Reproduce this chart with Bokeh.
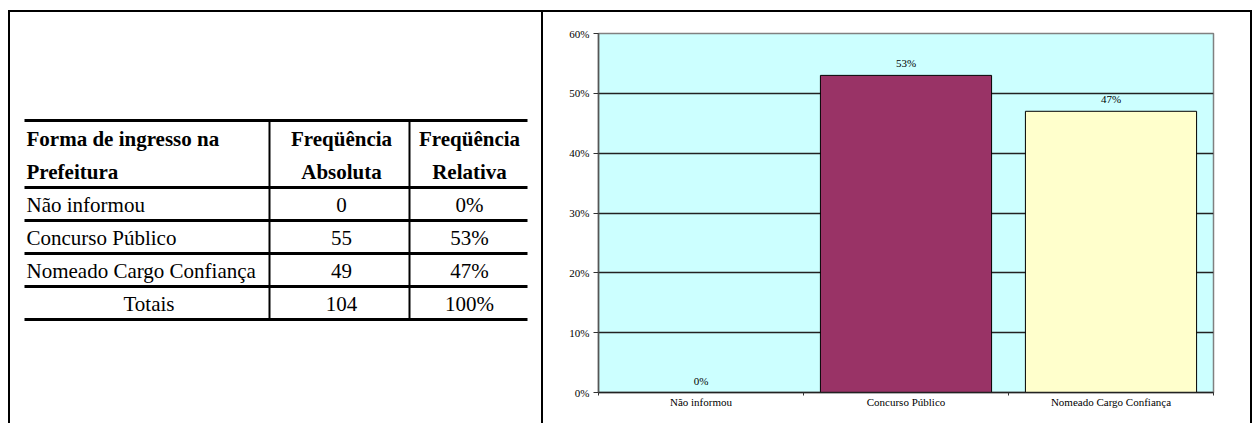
from bokeh.plotting import figure
from bokeh.layouts import row, column
from bokeh.models import Range1d, FixedTicker, NumeralTickFormatter, Spacer
from bokeh.core.properties import value
from bokeh.embed import file_html
from bokeh.resources import INLINE

# ---------------- data ----------------
categories = ["Não informou", "Concurso Público", "Nomeado Cargo Confiança"]
absolute = [0, 55, 49]
relative_pct = [0, 53, 47]
total_abs = 104
total_pct = 100
header_col1 = ["Forma de ingresso na", "Prefeitura"]
header_col2 = ["Freqüência", "Absoluta"]
header_col3 = ["Freqüência", "Relativa"]
total_label = "Totais"
bar_colors = ["#9999FF", "#993366", "#FFFFCC"]
y_ticks = [0.0, 0.1, 0.2, 0.3, 0.4, 0.5, 0.6]

SERIF = value("Liberation Serif")

# ---------------- page geometry (pixels) ----------------
W, H = 1252, 423
TOP_WHITE, LINE = 10, 2
OUT_LEFT = 8
DIV_X = 541
RIGHT_X = 1250
ROW_TOP = TOP_WHITE + LINE
ROW_H = H - ROW_TOP
FRAME_TOP, FRAME_BOTTOM = 33, 392      # chart plot area (absolute)
PLOT_LEFT, PLOT_RIGHT = 598, 1213
B_TOP = FRAME_TOP - ROW_TOP
B_BOTTOM = H - FRAME_BOTTOM

LEFT_X0 = OUT_LEFT + LINE
LW = DIV_X - LEFT_X0
RX0 = DIV_X + LINE
RW = RIGHT_X - RX0


def black(w, h):
    return Spacer(width=w, height=h, styles={"background-color": "black"})


# ---------------- left: table ----------------
left = figure(width=LW, height=ROW_H, output_backend="svg", toolbar_location=None, tools="",
              x_range=Range1d(LEFT_X0, DIV_X), y_range=Range1d(FRAME_BOTTOM, FRAME_TOP),
              min_border_left=0, min_border_right=0, min_border_top=B_TOP, min_border_bottom=B_BOTTOM,
              x_axis_location=None, y_axis_location=None)
left.grid.visible = False
left.outline_line_color = None
left.background_fill_color = "white"
left.border_fill_color = "white"

col_x = [24, 269, 409, 527]
header_top = 120
header_h = 67
row_h = 33
n_rows = len(categories) + 1
h_lines = [header_top, header_top + header_h] + [header_top + header_h + row_h * (i + 1) for i in range(n_rows)]
left.segment(x0=[col_x[0]] * len(h_lines), y0=h_lines, x1=[col_x[-1]] * len(h_lines), y1=h_lines,
             line_color="black", line_width=3)
table_bottom = h_lines[-1]
left.segment(x0=[col_x[1], col_x[2]], y0=[header_top] * 2, x1=[col_x[1], col_x[2]], y1=[table_bottom] * 2,
             line_color="black", line_width=2)

c2 = (col_x[1] + col_x[2]) / 2 + 2
c3 = (col_x[2] + col_x[3]) / 2 + 1
txt_left = col_x[0] + 2
FS = "21px"

hy = [header_top + 18, header_top + 51]
for xx, txts, al in ((txt_left, header_col1, "left"), (c2, header_col2, "center"), (c3, header_col3, "center")):
    left.text(x=[xx] * 2, y=hy, text=txts, text_font=SERIF, text_font_size=FS,
              text_font_style="bold", text_align=al, text_baseline="middle", text_color="black")

row_mid = [header_top + header_h + row_h * i + 17.5 for i in range(n_rows)]
left.text(x=[txt_left] * len(categories), y=row_mid[:len(categories)], text=categories,
          text_font=SERIF, text_font_size=FS, text_align="left", text_baseline="middle", text_color="black")
left.text(x=[(col_x[0] + col_x[1]) / 2 + 2], y=[row_mid[-1]], text=[total_label],
          text_font=SERIF, text_font_size=FS, text_align="center", text_baseline="middle", text_color="black")
abs_txt = [str(v) for v in absolute] + [str(total_abs)]
rel_txt = [f"{v}%" for v in relative_pct] + [f"{total_pct}%"]
left.text(x=[c2] * n_rows, y=row_mid, text=abs_txt, text_font=SERIF, text_font_size=FS,
          text_align="center", text_baseline="middle", text_color="black")
left.text(x=[c3] * n_rows, y=row_mid, text=rel_txt, text_font=SERIF, text_font_size=FS,
          text_align="center", text_baseline="middle", text_color="black")

# ---------------- right: bar chart ----------------
p = figure(width=RW, height=ROW_H, output_backend="svg", toolbar_location=None, tools="",
           x_range=Range1d(0, len(categories)), y_range=Range1d(0, 0.6),
           min_border_left=PLOT_LEFT - RX0, min_border_right=RIGHT_X - PLOT_RIGHT,
           min_border_top=B_TOP, min_border_bottom=B_BOTTOM)
p.background_fill_color = "#CCFFFF"
p.border_fill_color = "white"
p.outline_line_color = "#808080"
p.outline_line_width = 1.5

xs = [i + 0.5 for i in range(len(categories))]
vals = [v / 100 for v in relative_pct]

p.xgrid.visible = False
p.ygrid.ticker = FixedTicker(ticks=y_ticks)
p.ygrid.grid_line_color = "#222222"
p.ygrid.grid_line_width = 1.3

p.vbar(x=xs, top=vals, width=0.835, fill_color=bar_colors, line_color="black", line_width=1)
p.text(x=xs, y=vals, text=[f"{v}%" for v in relative_pct], text_font=SERIF, text_font_size="11px",
       text_align="center", text_baseline="middle", y_offset=-12, text_color="black")

ya = p.yaxis[0]
ya.ticker = FixedTicker(ticks=y_ticks, minor_ticks=[])
ya.formatter = NumeralTickFormatter(format="0%")
ya.major_label_text_font = "Liberation Serif"
ya.major_label_text_font_size = "11px"
ya.major_label_text_color = "black"
ya.major_tick_in = 0
ya.major_tick_out = 5
ya.major_label_standoff = 4
ya.axis_line_color = "#555555"
ya.axis_line_width = 1.5
ya.major_tick_line_color = "#333333"

xa = p.xaxis[0]
xa.ticker = FixedTicker(ticks=xs, minor_ticks=[0, 1, 2, 3])
xa.major_label_overrides = {x: c for x, c in zip(xs, categories)}
xa.major_label_text_font = "Liberation Serif"
xa.major_label_text_font_size = "11px"
xa.major_label_text_color = "black"
xa.major_tick_in = 0
xa.major_tick_out = 0
xa.minor_tick_in = 0
xa.minor_tick_out = 3
xa.minor_tick_line_color = "#333333"
xa.major_label_standoff = 0
xa.axis_line_color = "#222222"
xa.axis_line_width = 1.3

# ---------------- page assembly with frame lines ----------------
top_band = column(Spacer(width=W, height=TOP_WHITE),
                  row(Spacer(width=OUT_LEFT, height=LINE), black(W - OUT_LEFT, LINE)))
body = row(Spacer(width=OUT_LEFT, height=ROW_H), black(LINE, ROW_H), left, black(LINE, ROW_H), p,
           black(LINE, ROW_H), Spacer(width=max(W - RIGHT_X - LINE, 0), height=ROW_H))
layout = column(top_band, body)
open("out.html", "w").write(file_html(layout, INLINE))
